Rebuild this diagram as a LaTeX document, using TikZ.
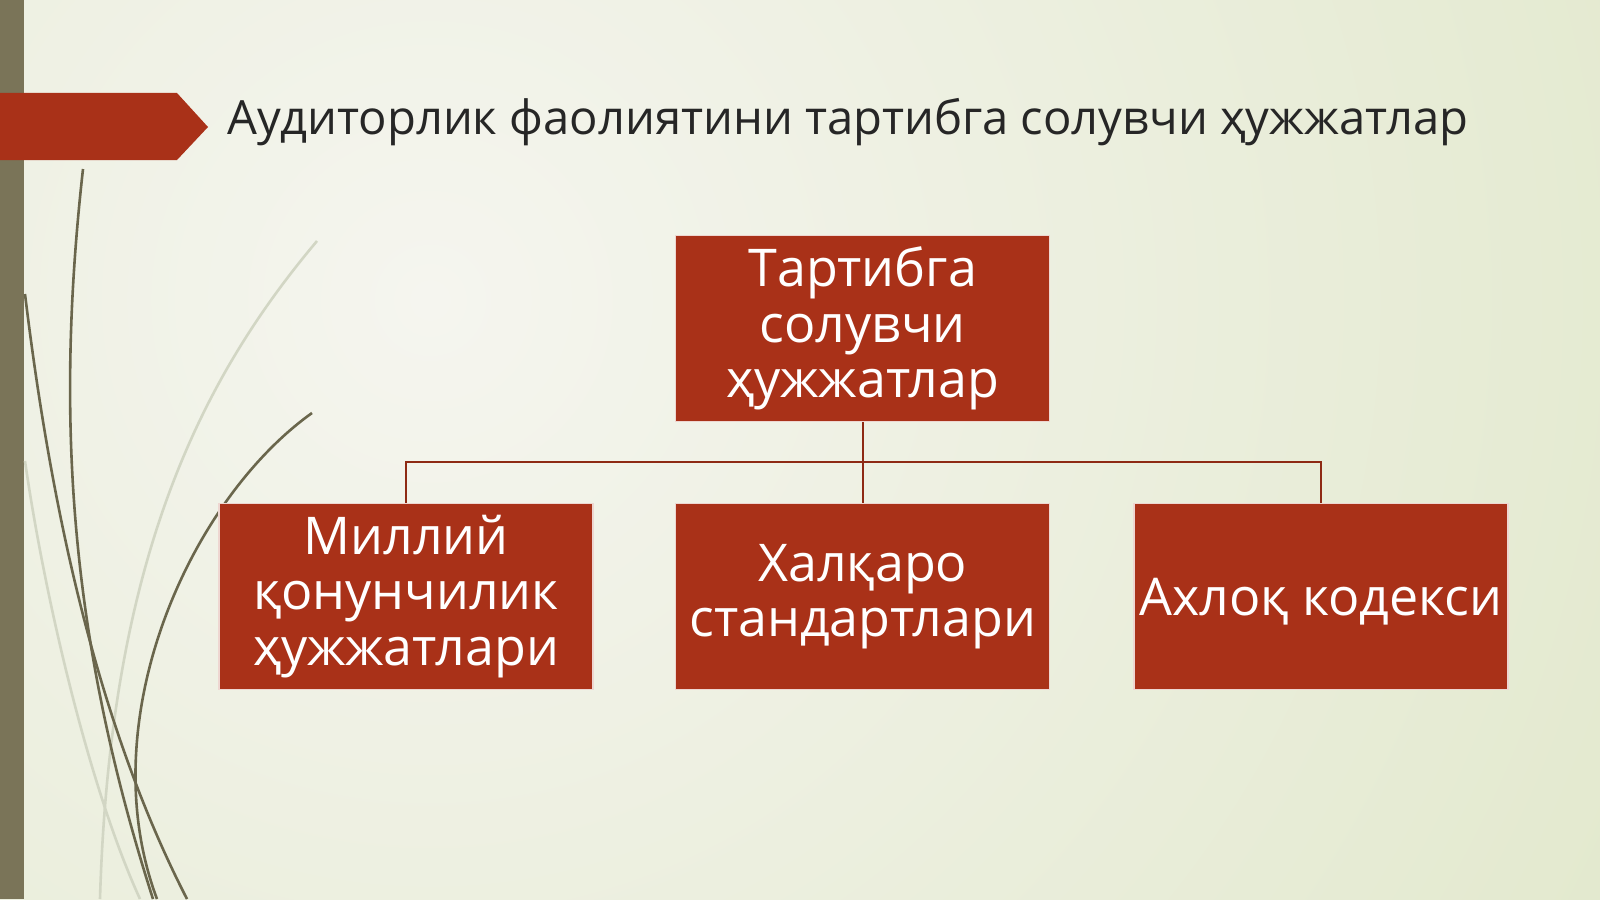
\documentclass[tikz,border=0pt]{standalone}
\usepackage{fontspec}
\setmainfont{Open Sans}
\usetikzlibrary{positioning,calc}
\definecolor{wispRed}{HTML}{A93118}
\definecolor{wispLine}{HTML}{8E2A14}
\definecolor{wispBar}{HTML}{7A7458}
\definecolor{wispStem}{HTML}{6A664C}
\definecolor{wispPale}{HTML}{D2D6C4}
\definecolor{wispInk}{HTML}{262626}
\definecolor{bgLight}{HTML}{F5F5EF}
\definecolor{bgGreen}{HTML}{DBE4C0}
\tikzset{
  docbox/.style={
    fill=wispRed, draw=white!80!wispRed, line width=0.6pt,
    minimum width=187pt, minimum height=93pt, inner sep=0pt,
    text=white, align=center, font=\fontsize{26}{27.8}\selectfont,
    execute at begin node=\rule{0pt}{24pt}
  },
  titletext/.style={font=\fontsize{23.6}{28}\selectfont, text=wispInk, inner sep=0pt},
  link/.style     ={draw=wispLine, line width=1pt},
  stem/.style     ={draw=wispStem, line width=1.3pt},
  palestem/.style ={draw=wispPale, line width=1.3pt},
}

\begin{document}
\begin{tikzpicture}[x=0.5pt,y=-0.5pt]

% --- geometry (slide pixels) ------------------------------------------------
\def\colL{406}     % left column centre
\def\colM{862.8}   % middle column centre
\def\colR{1321}    % right column centre
\def\rowT{328.5}   % top row centre
\def\rowB{596.5}   % bottom row centre
\def\busY{462}     % horizontal connector level

\useasboundingbox (0,0) rectangle (1600,899);

% --- background -------------------------------------------------------------
\begin{scope}
  \clip (0,0) rectangle (1600,899);
  \shade[inner color=bgLight, outer color=bgGreen] (430,300) circle (1900);
\end{scope}
\fill[wispBar] (0,0) rectangle (24,899);

% wisps
\draw[palestem] (317,241) .. controls (200,380) and (110,560) .. (100,899);
\draw[palestem] (25,461) .. controls (45,600) and (90,790) .. (140,899);
\draw[stem] (83,169) .. controls (55,420) and (70,640) .. (153,899);
\draw[stem] (25,294) .. controls (50,500) and (95,720) .. (187,899);
\draw[stem] (312,413) .. controls (190,500) and (90,720) .. (157,899);

% title banner
\fill[wispRed] (0,93) -- (177,93) -- (208,127) -- (177,160) -- (0,160) -- cycle;
\node[titletext, anchor=base west] (title) at (227,134)
  {Аудиторлик фаолиятини тартибга солувчи ҳужжатлар};

% --- boxes ------------------------------------------------------------------
\node[docbox] (root) at (\colM,\rowT) {Тартибга\\солувчи\\ҳужжатлар};
\node[docbox] (law)  at (\colL,\rowB) {Миллий\\қонунчилик\\ҳужжатлари};
\node[docbox] (intl) at (\colM,\rowB) {Халқаро\\стандартлари};
\node[docbox] (code) at (\colR,\rowB) {Ахлоқ кодекси};

% --- connectors -------------------------------------------------------------
\coordinate (bus) at (\colM,\busY);
\draw[link] (root.south) -- (intl.north);
\draw[link] (law.north) |- (bus) -| (code.north);

\end{tikzpicture}
\end{document}
